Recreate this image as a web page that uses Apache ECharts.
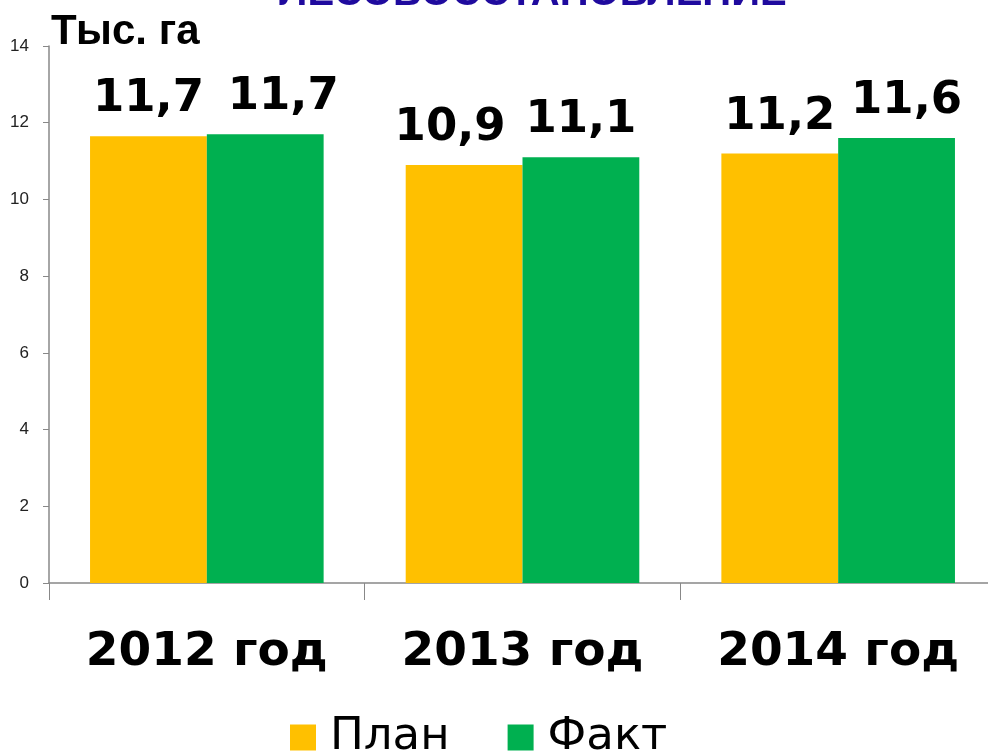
<!DOCTYPE html>
<html>
<head>
<meta charset="utf-8">
<script src="https://cdn.jsdelivr.net/npm/echarts@6/dist/echarts.min.js"></script>
<style>
  html, body { margin: 0; padding: 0; background: #fff; overflow: hidden; }
  #chart { width: 1000px; height: 755px; }
</style>
</head>
<body>
<div id="chart"></div>
<script>
// данные
var years = ['2012 год', '2013 год', '2014 год'];
var plan = [11.65, 10.9, 11.2];
var fakt = [11.7, 11.1, 11.6];
var planLabels = ['11,7', '10,9', '11,2'];
var faktLabels = ['11,7', '11,1', '11,6'];
var yTicks = [0, 2, 4, 6, 8, 10, 12, 14];

// сдвиг подписей как на слайде
var planShift = [0, -14, 0];
var faktShift = [18, 0, 10];

var chart = echarts.init(document.getElementById('chart'));

function makeItems(values, shift) {
  var out = [];
  for (var i = 0; i < values.length; i++) {
    out.push({ value: values[i], label: { offset: [shift[i], 0] } });
  }
  return out;
}

var valueLabel = function (texts) {
  return {
    show: true,
    position: 'top',
    distance: 14,
    color: '#000',
    fontFamily: 'DejaVu Sans',
    fontWeight: 'bold',
    fontSize: 45,
    formatter: function (p) { return texts[p.dataIndex]; }
  };
};

chart.setOption({
  animation: false,
  title: [{
    text: 'ЛЕСОВОССТАНОВЛЕНИЕ',
    left: 528,
    textAlign: 'center',
    top: -31,
    textStyle: { color: '#1f0a9e', fontFamily: 'Liberation Sans', fontWeight: 'bold', fontSize: 40 }
  }, {
    text: 'Тыс. га',
    left: 46,
    top: 6,
    textStyle: { color: '#000', fontFamily: 'Liberation Sans', fontWeight: 'bold', fontSize: 42 }
  }],
  legend: {
    bottom: -10,
    left: 285,
    itemWidth: 26,
    itemHeight: 26,
    itemGap: 58,
    icon: 'rect',
    textStyle: { fontFamily: 'DejaVu Sans', fontSize: 45, color: '#000', padding: [10, 0, 0, 9] },
    data: ['План', 'Факт']
  },
  grid: { left: 49, top: 46, width: 947, height: 537, containLabel: false },
  xAxis: {
    type: 'category',
    data: years,
    axisLine: { lineStyle: { color: '#888', width: 1.5 } },
    axisTick: { show: true, length: 17, lineStyle: { color: '#888' } },
    axisLabel: {
      interval: 0,
      hideOverlap: false,
      margin: 46,
      color: '#000',
      fontFamily: 'DejaVu Sans',
      fontWeight: 'bold',
      fontSize: 47
    }
  },
  yAxis: {
    type: 'value',
    min: yTicks[0],
    max: yTicks[yTicks.length - 1],
    interval: 2,
    axisLine: { show: true, lineStyle: { color: '#888', width: 1.5 } },
    axisTick: { show: true, length: 6, lineStyle: { color: '#888' } },
    splitLine: { show: false },
    axisLabel: { margin: 20, color: '#222', fontFamily: 'Liberation Sans', fontSize: 17 }
  },
  series: [{
    name: 'План',
    type: 'bar',
    data: makeItems(plan, planShift),
    barGap: '0%',
    barCategoryGap: '26%',
    itemStyle: { color: '#ffc000' },
    label: valueLabel(planLabels)
  }, {
    name: 'Факт',
    type: 'bar',
    data: makeItems(fakt, faktShift),
    itemStyle: { color: '#00b050' },
    label: valueLabel(faktLabels)
  }]
});
</script>
</body>
</html>
